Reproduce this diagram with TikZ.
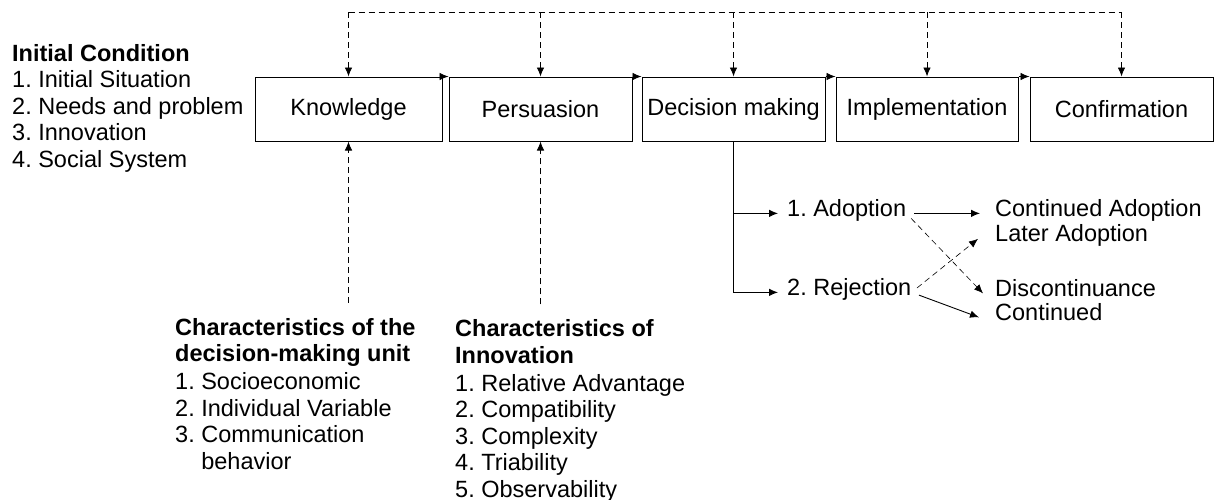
\documentclass[tikz,border=0pt]{standalone}
\usepackage{fontspec}
\setmainfont{Liberation Sans}
\usetikzlibrary{arrows.meta,positioning}
\frenchspacing
\begin{document}
\begin{tikzpicture}[x=1pt, y=-1pt, >={Latex[length=9pt,width=7.5pt]},
  font=\fontsize{23.5pt}{26.5pt}\selectfont,
  stage/.style={draw, line width=1pt, minimum width=183pt, minimum height=64pt, inner sep=0pt},
  txt/.style={inner sep=0pt, anchor=base west},
  list/.style={inner sep=0pt, anchor=base west, align=left},
  flow/.style={line width=0.9pt},
  feedback/.style={line width=0.9pt, dash pattern=on 6pt off 4pt}]
  \useasboundingbox (0,0) rectangle (1214,499);
  % stages of the process
  \node[stage, minimum width=187pt] (know) at (348.5,109) {Knowledge};
  \node[stage] (pers) at (540.5,109) {Persuasion};
  \node[stage] (dec) at (733.5,109) {Decision making};
  \node[stage, minimum width=182pt] (impl) at (927,109) {Implementation};
  \node[stage] (conf) at (1121.5,109) {Confirmation};
  \foreach \a/\b in {know/pers,pers/dec,dec/impl,impl/conf}
    \draw[flow,->] (\a.north east) -- (\b.north west);
  % feedback line on top
  \coordinate (top) at (0,12);
  \draw[feedback] (know.north |- top) -- (conf.north |- top);
  \foreach \s in {know,pers,dec,impl,conf}
    \draw[feedback,->] (\s.north |- top) -- (\s.north);
  % conditions and characteristics (placed by their last baseline)
  \node[list] (init) at (12,167) {\textbf{Initial Condition}\\1. Initial Situation\\2. Needs and problem\\3. Innovation\\4. Social System};
  \node[list] (unit) at (175,469) {\textbf{Characteristics of the}\\\textbf{decision-making unit}\\[1.5pt]1. Socioeconomic\\2. Individual Variable\\3. Communication\\\phantom{3. }behavior};
  \node[list] (innov) at (455,497) {\textbf{Characteristics of}\\\textbf{Innovation}\\[1.5pt]1. Relative Advantage\\2. Compatibility\\3. Complexity\\4. Triability\\5. Observability};
  \draw[feedback,->,shorten <=15pt] (know.south |- unit.north) -- (know.south);
  \draw[feedback,->,shorten <=15pt] (pers.south |- innov.north) -- (pers.south);
  % decision outcomes
  \node[txt] (adopt) at (787,216) {1. Adoption};
  \node[txt] (rej) at (787,295) {2. Rejection};
  \node[txt] (contad) at (995,216) {Continued Adoption};
  \node[txt] (later) at (995,241.5) {Later Adoption};
  \node[txt] (discont) at (995,296) {Discontinuance};
  \node[txt] (contd) at (995,320) {Continued};
  \draw[flow,->] (dec.south) |- ([xshift=-9pt]rej.mid west);
  \draw[flow,->] (dec.south |- adopt.mid west) -- ([xshift=-9pt]adopt.mid west);
  \draw[flow,->,shorten <=8pt] (adopt.mid east) -- ([xshift=-15pt]contad.mid west);
  \draw[feedback,line width=0.6pt,->,shorten <=7pt] (adopt.mid east) -- ([xshift=-12pt]discont.mid west);
  \draw[feedback,line width=0.6pt,->,shorten <=7pt] (rej.mid east) -- ([xshift=-17pt]later.mid west);
  \draw[flow,->,shorten <=8pt] (rej.mid east) -- ([xshift=-16pt]contd.mid west);
\end{tikzpicture}
\end{document}
